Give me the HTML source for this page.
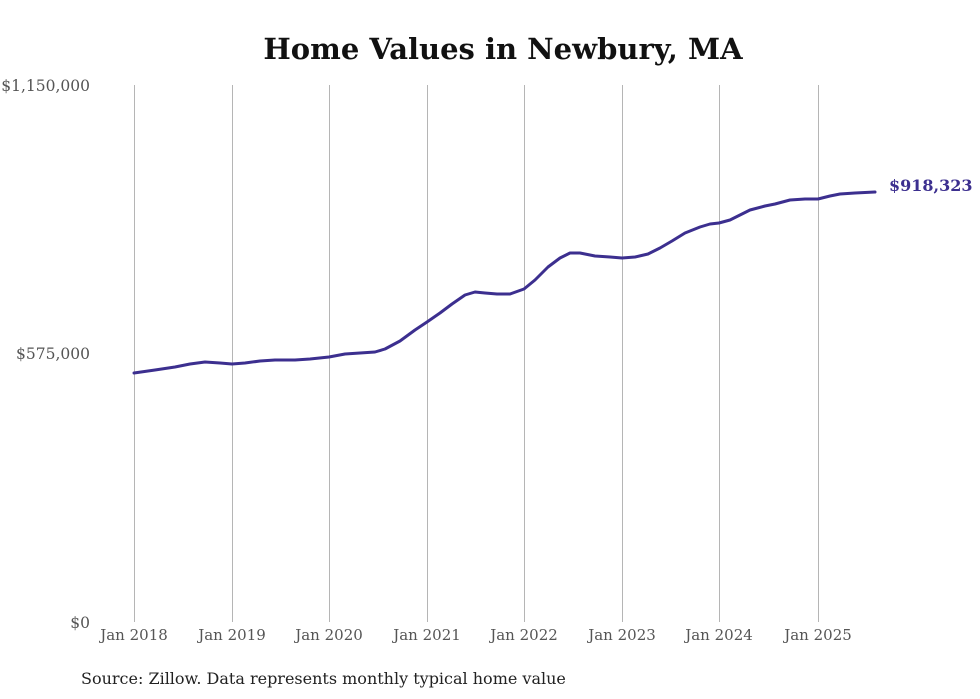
<!DOCTYPE html>
<html><head><meta charset="utf-8"><style>
body{margin:0;background:#fff;}
svg{display:block;font-family:"DejaVu Serif","Liberation Serif",serif;}
</style></head><body>
<svg width="980" height="699" viewBox="0 0 980 699" xmlns="http://www.w3.org/2000/svg">
<rect width="980" height="699" fill="#fff"/>
<text x="503" y="59" text-anchor="middle" font-size="29" font-weight="bold" fill="#111">Home Values in Newbury, MA</text>
<g stroke="#b5b5b5" stroke-width="1">
<line x1="134.5" y1="85" x2="134.5" y2="622"/>
<line x1="232.5" y1="85" x2="232.5" y2="622"/>
<line x1="329.5" y1="85" x2="329.5" y2="622"/>
<line x1="427.5" y1="85" x2="427.5" y2="622"/>
<line x1="524.5" y1="85" x2="524.5" y2="622"/>
<line x1="622.5" y1="85" x2="622.5" y2="622"/>
<line x1="719.5" y1="85" x2="719.5" y2="622"/>
<line x1="818.5" y1="85" x2="818.5" y2="622"/>
</g>
<g font-size="15.5" fill="#555" text-anchor="end">
<text x="90" y="91">$1,150,000</text>
<text x="90" y="359">$575,000</text>
<text x="90" y="628">$0</text>
</g>
<g font-size="15" fill="#555" text-anchor="middle">
<text x="134" y="640">Jan 2018</text>
<text x="232" y="640">Jan 2019</text>
<text x="329" y="640">Jan 2020</text>
<text x="427" y="640">Jan 2021</text>
<text x="524" y="640">Jan 2022</text>
<text x="622" y="640">Jan 2023</text>
<text x="719" y="640">Jan 2024</text>
<text x="818" y="640">Jan 2025</text>
</g>
<polyline fill="none" stroke="#3c2f8f" stroke-width="3" stroke-linejoin="round" stroke-linecap="round"
points="134,373 155,370 175,367 190,364 205,362 220,363 232,364 245,363 260,361 275,360 295,360 310,359 329,357 345,354 360,353 375,352 385,349 400,341 415,330 427,322 440,313 452,304 465,295 475,292 485,293 497,294 510,294 524,289 535,280 548,267 560,258 570,253 580,253 595,256 610,257 622,258 635,257 648,254 660,248 672,241 685,233 700,227 710,224 719,223 730,220 740,215 750,210 765,206 775,204 790,200 805,199 818,199 830,196 840,194 855,193 875,192"/>
<text x="889" y="191" font-size="16" font-weight="bold" fill="#3c2f8f">$918,323</text>
<text x="81" y="684" font-size="16" fill="#222">Source: Zillow. Data represents monthly typical home value</text>
</svg>
</body></html>
